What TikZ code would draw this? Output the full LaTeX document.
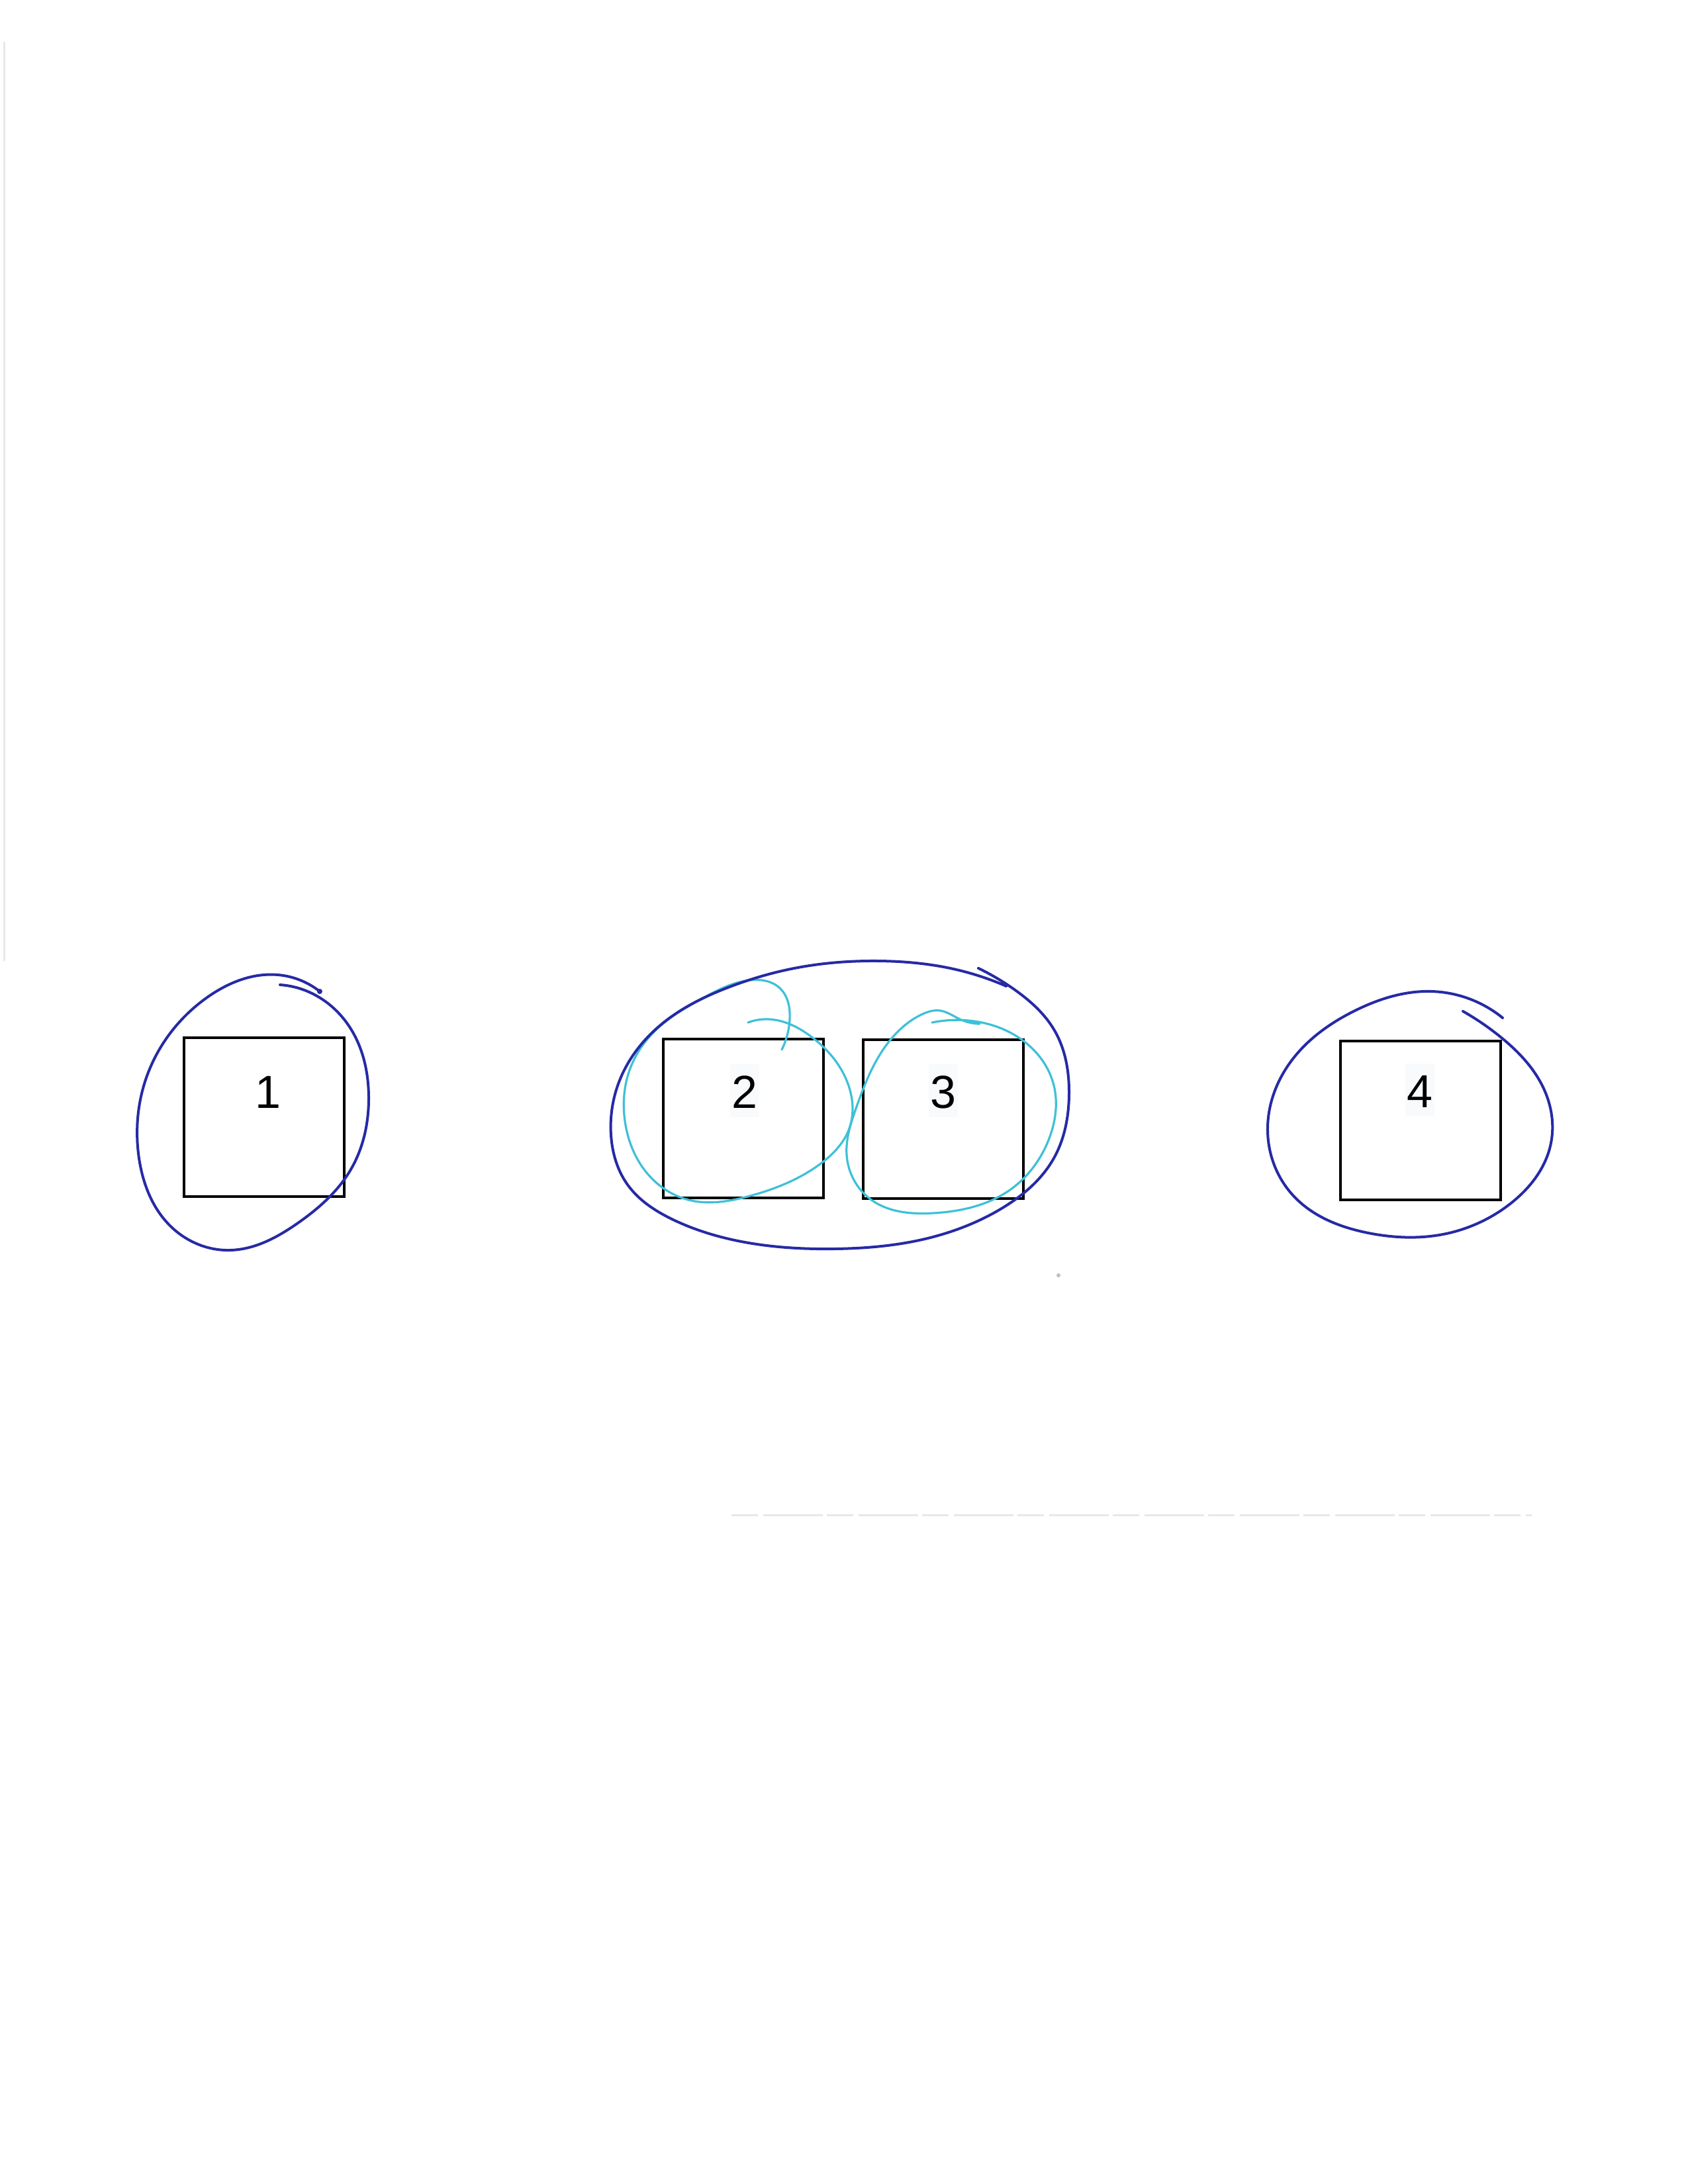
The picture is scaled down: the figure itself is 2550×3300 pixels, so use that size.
\documentclass[tikz,border=0pt]{standalone}
\usepackage{fontspec}
\setmainfont{Liberation Sans}
\usetikzlibrary{hobby}
\definecolor{penblue}{RGB}{38,42,165}
\definecolor{pencyan}{RGB}{62,192,216}
\definecolor{digitbg}{RGB}{249,250,252}
\definecolor{scan}{RGB}{232,232,232}
\definecolor{speck}{RGB}{190,190,190}
\begin{document}
\begin{tikzpicture}[x=1pt,y=-1pt,
  box/.style={draw=black, line width=4pt, minimum width=242pt, minimum height=240pt, inner sep=0pt},
  digit/.style={font=\fontsize{70}{80}\selectfont, inner xsep=3pt, inner ysep=0pt, text height=66pt, text depth=14pt, anchor=base},
  digitshade/.style={digit, fill=digitbg},
  loopblue/.style={draw=penblue, line width=4pt, line cap=round, line join=round, use Hobby shortcut},
  loopcyan/.style={draw=pencyan, line width=3.2pt, line cap=round, line join=round, use Hobby shortcut},
  scanline/.style={draw=scan, line width=3pt}]
\useasboundingbox[fill=white] (0,0) rectangle (2550,3300);

% faint scan marks
\draw[scanline] (6,63) -- (6,1452);
\draw[scanline, dash pattern=on 40pt off 8pt on 90pt off 6pt] (1105,2289) -- (2314,2289);
\fill[speck] (1599,1927) circle (3);

% boxes
\node[box] (b1) at (399,1688) {};
\node[box] (b2) at (1123,1690) {};
\node[box] (b3) at (1425,1691) {};
\node[box] (b4) at (2146,1693) {};

% labels
\node[digit] (t1) at (405,1674) {1};
\node[digitshade] (t2) at (1125,1674) {2};
\node[digitshade] (t3) at (1425,1674) {3};
\node[digitshade] (t4) at (2145,1673) {4};

% cyan loops (2 and 3)
\draw[loopcyan] (1181,1586) .. (1193,1540) .. (1178,1493) .. (1133,1481)
  .. (1062,1508) .. (990,1557) .. (950,1620) .. (945,1700) .. (973,1767)
  .. (1040,1813) .. (1133,1807) .. (1240,1758) .. (1283,1705) .. (1280,1635)
  .. (1225,1566) .. (1160,1540) .. (1130,1545);
\draw[loopcyan] (1408,1545) .. (1463,1542) .. (1545,1572) .. (1592,1640)
  .. (1585,1720) .. (1527,1797) .. (1410,1833) .. (1315,1812) .. (1279,1745)
  .. (1293,1675) .. (1342,1575) .. (1392,1533) .. (1420,1527) .. (1450,1540)
  .. (1480,1547);

% blue loops
\draw[loopblue] (483,1498) .. (420,1473) .. (313,1507) .. (223,1623)
  .. (210,1750) .. (260,1855) .. (347,1889) .. (450,1848) .. (530,1767)
  .. (557,1657) .. (527,1550) .. (457,1495) .. (423,1488);
\fill[penblue] (483,1498) circle (4);

\draw[loopblue] (1478,1463) .. (1535,1497) .. (1593,1557) .. (1615,1653)
  .. (1592,1750) .. (1513,1826) .. (1393,1873) .. (1260,1887) .. (1120,1876)
  .. (1017,1843) .. (948,1790) .. (923,1715) .. (937,1630) .. (1000,1547)
  .. (1100,1492) .. (1200,1463) .. (1327,1452) .. (1440,1464) .. (1520,1490);

\draw[loopblue] (2270,1538) .. (2163,1498) .. (2047,1527) .. (1953,1600)
  .. (1915,1710) .. (1955,1808) .. (2067,1863) .. (2180,1865) .. (2280,1820)
  .. (2343,1727) .. (2333,1647) .. (2267,1567) .. (2210,1528);
\end{tikzpicture}
\end{document}
